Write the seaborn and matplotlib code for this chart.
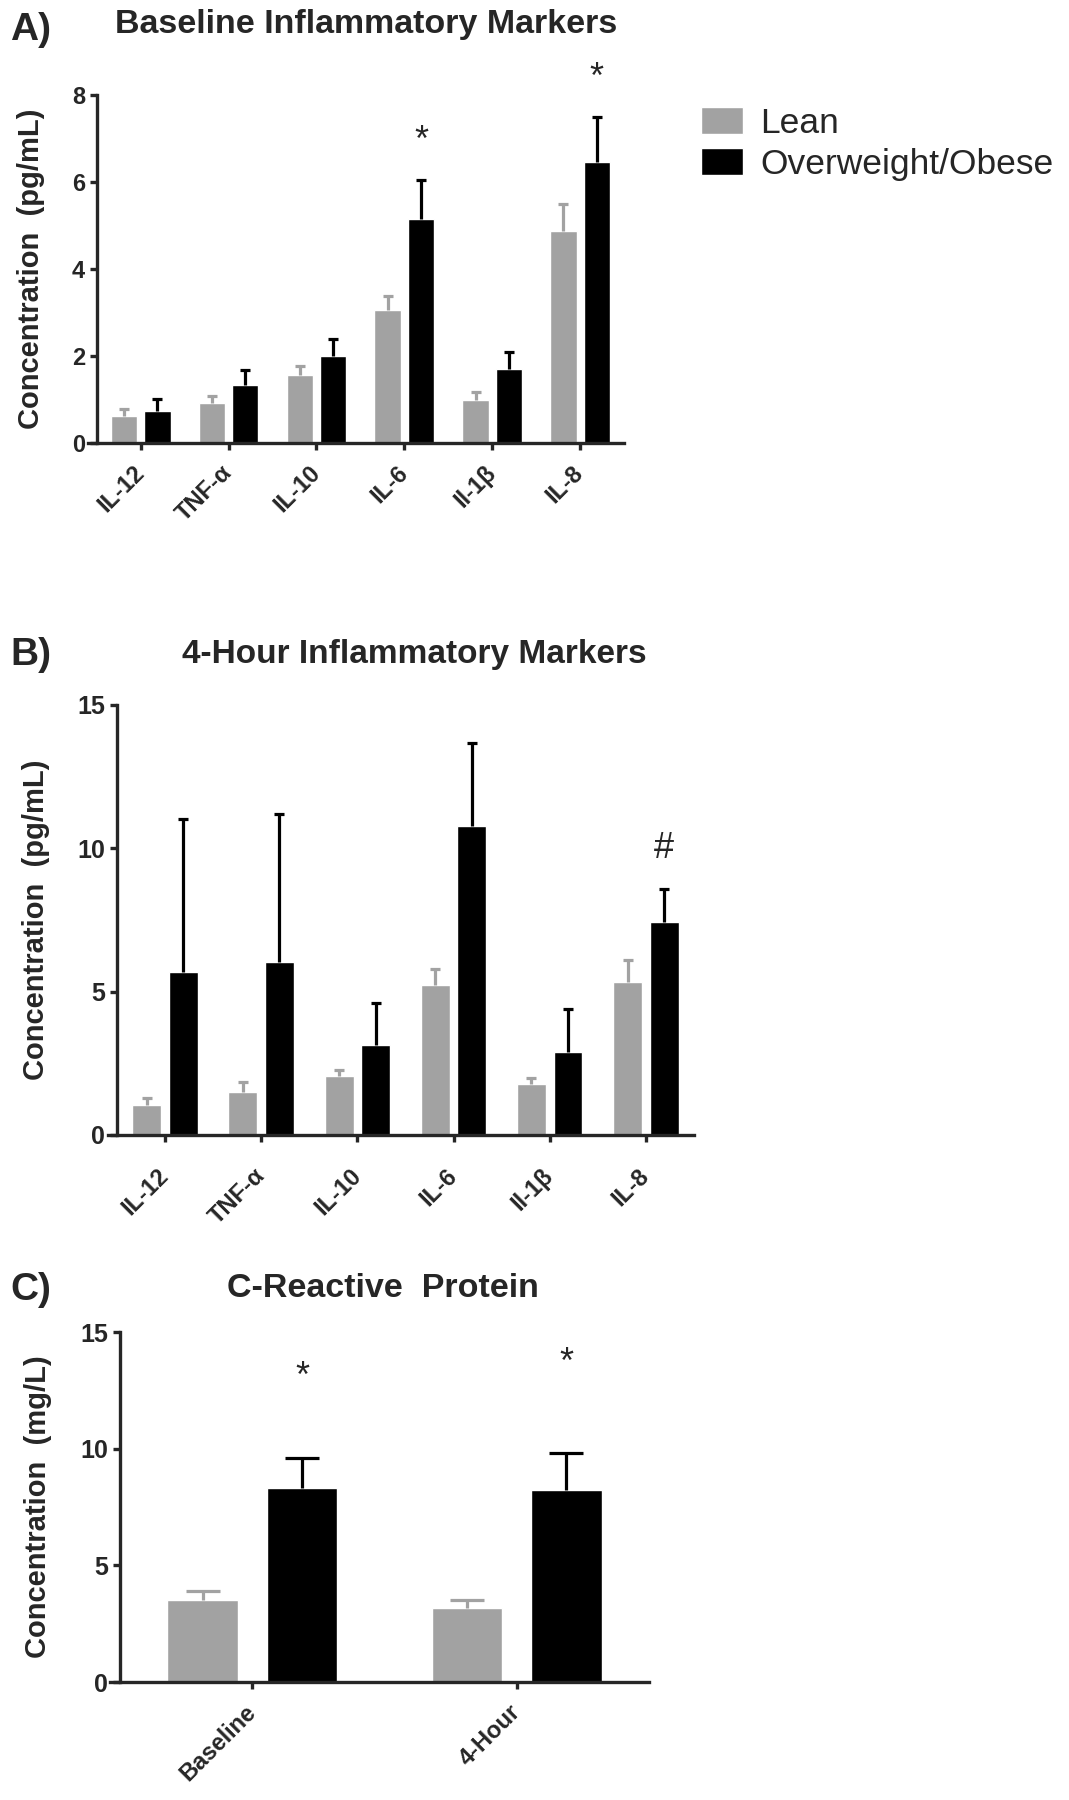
import matplotlib
matplotlib.use("Agg")
import matplotlib.pyplot as plt
import numpy as np
import pandas as pd
import seaborn as sns

# ---- data ----
markers = ["IL-12", "TNF-α", "IL-10", "IL-6", "Il-1β", "IL-8"]
groups = ["Lean", "Overweight/Obese"]

base_lean = [0.63, 0.92, 1.57, 3.05, 0.99, 4.88]
base_lean_sem = [0.15, 0.17, 0.19, 0.34, 0.18, 0.62]
base_obese = [0.74, 1.34, 2.01, 5.14, 1.70, 6.47]
base_obese_sem = [0.28, 0.34, 0.39, 0.91, 0.40, 1.02]
base_sig = ["", "", "", "*", "", "*"]
base_sig_y = [0, 0, 0, 7.08, 0, 8.52]

hr4_lean = [1.05, 1.49, 2.07, 5.23, 1.77, 5.35]
hr4_lean_sem = [0.25, 0.35, 0.20, 0.55, 0.21, 0.75]
hr4_obese = [5.70, 6.05, 3.14, 10.78, 2.88, 7.44]
hr4_obese_sem = [5.31, 5.14, 1.45, 2.88, 1.52, 1.13]
hr4_sig = ["", "", "", "", "", "#"]
hr4_sig_y = [0, 0, 0, 0, 0, 10.0]

crp_times = ["Baseline", "4-Hour"]
crp_lean = [3.53, 3.17]
crp_lean_sem = [0.36, 0.36]
crp_obese = [8.33, 8.24]
crp_obese_sem = [1.28, 1.59]
crp_sig = ["*", "*"]
crp_sig_y = [13.30, 13.93]

grey = "#a2a2a2"
black = "#000000"
colors = {"Lean": grey, "Overweight/Obese": black}

sns.set_style("ticks")
plt.rcParams["font.family"] = ["Liberation Sans", "DejaVu Sans"]
plt.rcParams["axes.linewidth"] = 2.4

W, H = 1069, 1800
fig = plt.figure(figsize=(W / 100, H / 100), dpi=100)


def px_axes(left, top, right, bottom):
    return fig.add_axes([left / W, 1 - bottom / H, (right - left) / W, (bottom - top) / H])


def panel(ax, cats, lean, lean_sem, obese, obese_sem, sig, sig_y, ymax, yticks,
          width, gap, capsize, overhang, ylabel, label_x, xpad, ysize):
    n = len(cats)
    df = pd.DataFrame({
        "cat": cats * 2,
        "value": lean + obese,
        "group": [groups[0]] * n + [groups[1]] * n,
    })
    sns.barplot(data=df, x="cat", y="value", hue="group", palette=colors,
                saturation=1, width=width, gap=gap, errorbar=None, ax=ax)
    # upper-only error bars, on top of each bar
    for cont, sem, col in zip(ax.containers, [lean_sem, obese_sem], [grey, black]):
        xs = [p.get_x() + p.get_width() / 2 for p in cont]
        hs = [p.get_height() for p in cont]
        eb = ax.errorbar(xs, hs, yerr=[np.zeros(n), sem], fmt="none", ecolor=col,
                         elinewidth=2.3, capsize=capsize, capthick=2.3, zorder=1)
        # hide the cap that lands on the bar top
        for cl in eb[1]:
            if np.allclose(cl.get_ydata(), hs):
                cl.set_visible(False)
    # significance marks above the obese bars
    for p, s, y in zip(ax.containers[1], sig, sig_y):
        if s:
            shift = -6 if s == "*" else 0
            ax.annotate(s, (p.get_x() + p.get_width() / 2, y), xytext=(0, shift),
                        textcoords="offset pixels", ha="center", va="center",
                        fontsize=26, annotation_clip=False)
    ax.set_ylim(0, ymax)
    ax.set_yticks(yticks)
    # Prism style: x axis pokes a little past the y axis
    ax.set_xlim(-0.5 - overhang, n - 0.5)
    ax.spines["left"].set_position(("data", -0.5))
    ax.spines["top"].set_visible(False)
    ax.spines["right"].set_visible(False)
    ax.tick_params(axis="both", direction="out", length=5, width=2.4)
    ax.tick_params(axis="y", labelsize=ysize)
    for t in ax.get_yticklabels():
        t.set_fontweight("bold")
    ax.set_xticks(range(n))
    ax.set_xticklabels(cats, rotation=45, ha="right", va="center",
                       rotation_mode="anchor", fontweight="bold", fontsize=17)
    ax.tick_params(axis="x", pad=xpad)
    ax.set_xlabel("")
    ax.set_ylabel(ylabel, fontsize=21, fontweight="bold")
    ax.yaxis.set_label_coords(label_x, 0.5)
    ax.get_legend().remove()


axA = px_axes(88, 95, 624, 443)
panel(axA, markers, base_lean, base_lean_sem, base_obese, base_obese_sem,
      base_sig, base_sig_y, 8, [0, 2, 4, 6, 8], 0.76, 0.21, 3.6, 0.1,
      "Concentration  (pg/mL)", -0.080, 14, 17)

axB = px_axes(108, 705, 694, 1135)
panel(axB, markers, hr4_lean, hr4_lean_sem, hr4_obese, hr4_obese_sem,
      hr4_sig, hr4_sig_y, 15, [0, 5, 10, 15], 0.76, 0.21, 3.6, 0.093,
      "Concentration  (pg/mL)", -0.099, 22, 18)

axC = px_axes(110, 1332, 649, 1682)
panel(axC, crp_times, crp_lean, crp_lean_sem, crp_obese, crp_obese_sem,
      crp_sig, crp_sig_y, 15, [0, 5, 10, 15], 0.752, 0.29, 12, 0.038,
      "Concentration  (mg/L)", -0.108, 14, 18)

axA.set_title("Baseline Inflammatory Markers", fontsize=24.5, fontweight="bold",
              pad=45, x=0.519)
axB.set_title("4-Hour Inflammatory Markers", fontsize=24, fontweight="bold",
              pad=30, x=0.522)
axC.set_title("C-Reactive  Protein", fontsize=24.5, fontweight="bold",
              pad=25, x=0.506)

for lab, ytop in [("A)", 30), ("B)", 655), ("C)", 1290)]:
    fig.text(10 / W, 1 - ytop / H, lab, fontsize=28, fontweight="bold",
             ha="left", va="center")

handles, labels = axA.get_legend_handles_labels()
if not handles:
    handles = [plt.Rectangle((0, 0), 1, 1, color=colors[g]) for g in groups]
    labels = groups
fig.legend(handles, labels, loc="upper left", bbox_to_anchor=(701 / W, 1 - 107 / H),
           frameon=False, prop={"size": 25.5},
           handlelength=1.19, handleheight=0.79, handletextpad=0.48,
           labelspacing=0.22, borderpad=0, borderaxespad=0)

fig.savefig("out.png", dpi=100)
